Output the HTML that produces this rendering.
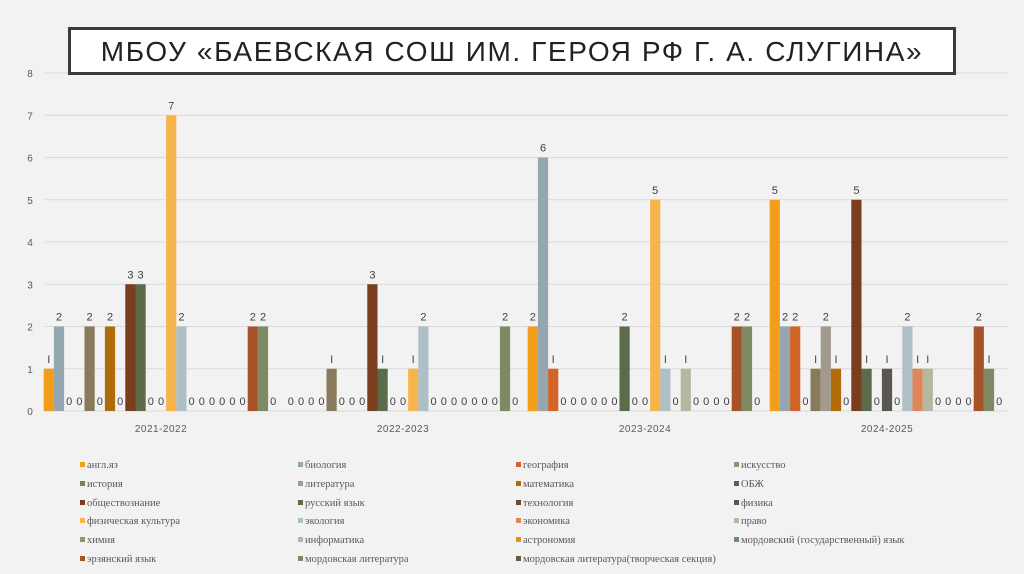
<!DOCTYPE html>
<html><head><meta charset="utf-8">
<style>
body{margin:0;background:#f2f2f2;width:1024px;height:574px;overflow:hidden;font-family:"Liberation Sans",sans-serif}
#title{position:absolute;left:68px;top:27px;width:882px;height:42px;background:#fff;border:3px solid #3a3a3a;text-align:center;font:28px/43px "Liberation Sans",sans-serif;letter-spacing:1.6px;white-space:nowrap;color:#222;z-index:2}
svg{position:absolute;left:0;top:0}
</style></head><body>
<div id="title">МБОУ «БАЕВСКАЯ СОШ ИМ. ГЕРОЯ РФ Г. А. СЛУГИНА»</div>
<svg id="c" width="1024" height="574"></svg>
<script>
const categories=["2021-2022","2022-2023","2023-2024","2024-2025"];
const seriesNames=["англ.яз","биология","география","искусство","история","литература","математика","ОБЖ","обществознание","русский язык","технология","физика","физическая культура","экология","экономика","право","химия","информатика","астрономия","мордовский (государственный) язык","эрзянский язык","мордовская литература","мордовская литература(творческая секция)"];
const seriesColors=["#f49d1a","#94a7b0","#d2642a","#8a9574","#8a7a5c","#a29a8c","#b06c0a","#4f6175","#7a3d1e","#5c6b4a","#6b4a2a","#5a5650","#f7b44a","#aebfc6","#e0845a","#b3b8a0","#9c8f78","#b9b5a8","#e8900f","#6d8899","#a8522a","#7d8a63","#6a5a44"];
const v2122=[1,2,0,0,2,0,2,0,3,3,0,0,7,2,0,0,0,0,0,0,2,2,0];
const v2223=[0,0,0,0,1,0,0,0,3,1,0,0,1,2,0,0,0,0,0,0,0,2,0];
const v2324=[2,6,1,0,0,0,0,0,0,2,0,0,5,1,0,1,0,0,0,0,2,2,0];
const v2425=[5,2,2,0,1,2,1,0,5,1,0,1,0,2,1,1,0,0,0,0,2,1,0];
const values=[v2122,v2223,v2324,v2425];
const yTicks=[0,1,2,3,4,5,6,7,8];
const NS="http://www.w3.org/2000/svg",svg=document.getElementById('c');
const x0=40,x1=1008,y0=411,yTop=73,yMax=8;
const y=v=>y0-(v/yMax)*(y0-yTop);
const gw=(x1-x0)/categories.length,bw=10.2,pad=(gw-bw*seriesNames.length)/2;
function el(t,a,txt){const e=document.createElementNS(NS,t);for(const k in a)e.setAttribute(k,a[k]);if(txt!==undefined)e.textContent=txt;svg.appendChild(e);return e;}
yTicks.forEach(t=>{
 const l=el('line',{x1:x0+5,x2:x1,y1:y(t),y2:y(t),stroke:'#d9d9d9','stroke-width':1});
 
 
 const tx=el('text',{x:30,y:y(t)+4,'font-size':10,fill:'#595959','text-anchor':'middle'},t);
 
 
});
categories.forEach((c,g)=>{
 const gx=x0+g*gw+pad;
 values[g].forEach((v,s)=>{
  const bx=gx+s*bw;
  if(v>0){const r=el('rect',{x:bx,y:y(v),width:bw,height:y0-y(v),fill:seriesColors[s]});
  
  }
  const t=el('text',{x:bx+bw/2,y:y(v)-6,'font-size':11,fill:'#404040','text-anchor':'middle'},v===1?'I':v);
  
  
 });
 const cl=el('text',{x:x0+g*gw+gw/2,y:432,'font-size':10,fill:'#595959','text-anchor':'middle','letter-spacing':'0.5'},c);
 
 
});
const colX=[80,298,516,734],rowY=[468,487,506,524,543,562];
seriesNames.forEach((n,i)=>{
 const cx=colX[i%4],cy=rowY[Math.floor(i/4)];
 const m=el('rect',{x:cx,y:cy-6,width:5,height:5,fill:seriesColors[i]});
 
 
 const t=el('text',{x:cx+7,y:cy,'font-size':10.5,fill:'#595959','font-family':'Liberation Serif,serif'},n);
 
 
});
</script>
</body></html>
